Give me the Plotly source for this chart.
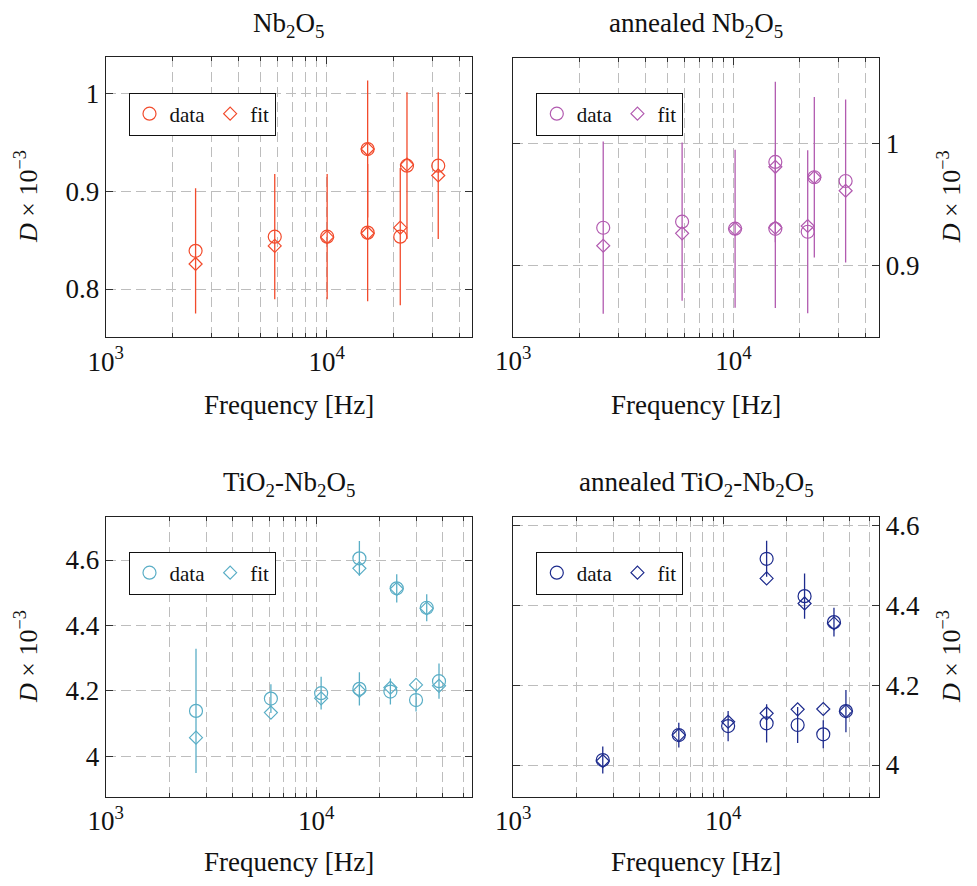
import plotly.graph_objects as go

# Page body has an 8px margin; the figure is sized to fit the window inside it.
OFF = 8
W, H = 977 - 2 * OFF, 886 - 2 * OFF
FONT = "Liberation Serif"

# ---------------- data ----------------
titles = ["Nb<sub>2</sub>O<sub>5</sub>", "annealed Nb<sub>2</sub>O<sub>5</sub>",
          "TiO<sub>2</sub>-Nb<sub>2</sub>O<sub>5</sub>", "annealed TiO<sub>2</sub>-Nb<sub>2</sub>O<sub>5</sub>"]
colors = ["#f24b2c", "#b25bb0", "#5aaec6", "#1d2b8d"]

f1 = [2550, 5820, 10050, 15330, 15330, 21540, 23100, 32000]
d1 = [0.839, 0.8535, 0.8535, 0.943, 0.8576, 0.8535, 0.926, 0.926]
e1 = [0.064, 0.064, 0.064, 0.070, 0.070, 0.070, 0.075, 0.075]
fit1 = [0.8256, 0.844, 0.853, 0.943, 0.857, 0.8627, 0.927, 0.916]

f2 = [2562, 5848, 10180, 15510, 15510, 21760, 23320, 32360]
d2 = [0.9309, 0.9359, 0.9301, 0.985, 0.930, 0.9276, 0.9724, 0.9693]
e2 = [0.0708, 0.065, 0.065, 0.066, 0.065, 0.067, 0.066, 0.067]
fit2 = [0.9161, 0.9263, 0.930, 0.981, 0.931, 0.9323, 0.9724, 0.9613]

f3 = [2686, 6095, 10560, 16050, 16050, 22530, 24150, 29830, 33530, 38350]
d3 = [4.1388, 4.1765, 4.193, 4.605, 4.2061, 4.198, 4.5135, 4.172, 4.4541, 4.2297]
e3 = [0.19, 0.044, 0.05, 0.053, 0.051, 0.04, 0.043, 0.035, 0.041, 0.054]
fit3 = [4.0569, 4.1336, 4.1773, 4.5745, 4.200, 4.210, 4.512, 4.2183, 4.452, 4.2153]

f4 = [2669, 6147, 10560, 16110, 16110, 22640, 24430, 29990, 33730, 38460]
d4 = [4.0125, 4.0752, 4.0977, 4.517, 4.1045, 4.1003, 4.4234, 4.077, 4.3582, 4.1353]
e4 = [0.034, 0.031, 0.038, 0.045, 0.048, 0.045, 0.057, 0.035, 0.036, 0.053]
fit4 = [4.01, 4.075, 4.1085, 4.4677, 4.1296, 4.1396, 4.405, 4.1404, 4.355, 4.135]

x_major = [1000, 10000]
x_major_text = ["10<sup>3</sup>", "10<sup>4</sup>"]
x_minor = [2000, 3000, 4000, 5000, 6000, 7000, 8000, 9000, 20000, 30000, 40000, 50000]
y_ticks = [[0.8, 0.9, 1.0], [0.9, 1.0], [4.0, 4.2, 4.4, 4.6], [4.0, 4.2, 4.4, 4.6]]
y_ticktext = [["0.8", "0.9", "1"], ["0.9", "1"], ["4", "4.2", "4.4", "4.6"], ["4", "4.2", "4.4", "4.6"]]

x_label = "Frequency [Hz]"
y_label = "<i>D</i> × 10<sup>−3</sup>"

# ---------------- layout geometry (screen pixels) ----------------
boxes = [(105.8, 472.0, 57.0, 337.0), (513.3, 879.3, 57.7, 336.7),
         (105.7, 472.3, 517.3, 796.7), (513.3, 879.3, 517.3, 796.7)]
xranges = [[3, 4.658], [3, 4.663], [3, 4.742], [3, 4.744]]
yranges = [[0.751, 1.037], [0.8413, 1.0707], [3.8765, 4.7306], [3.9206, 4.621]]
GRID = dict(gridcolor="#bdbdbd", griddash="10px,5px", gridwidth=1)


def px(X):
    return (X - OFF) / W


def py(Y):
    return 1 - (Y - OFF) / H


freqs = [f1, f2, f3, f4]
datas = [d1, d2, d3, d4]
errs = [e1, e2, e3, e4]
fits = [fit1, fit2, fit3, fit4]

fig = go.Figure()
layout = dict(width=W, height=H, margin=dict(l=0, r=0, t=0, b=0, autoexpand=False),
              paper_bgcolor="white", plot_bgcolor="white",
              font=dict(family=FONT, size=27, color="#111"))
annotations = []

for i in range(4):
    n = "" if i == 0 else str(i + 1)
    xa, ya = "x" + n, "y" + n
    leg = "legend" + n
    c = colors[i]
    fig.add_trace(go.Scatter(
        x=freqs[i], y=datas[i], mode="markers", name="data",
        xaxis=xa, yaxis=ya, legend=leg,
        marker=dict(symbol="circle-open", size=13, color=c, line=dict(width=1.2, color=c)),
        error_y=dict(type="data", array=errs[i], visible=True, color=c, thickness=1.3, width=0)))
    fig.add_trace(go.Scatter(
        x=freqs[i], y=fits[i], mode="markers", name="fit",
        xaxis=xa, yaxis=ya, legend=leg,
        marker=dict(symbol="diamond-open", size=10, color=c, line=dict(width=1.2, color=c))))

    x0, x1, y0, y1 = boxes[i]
    right = i in (1, 3)
    layout["xaxis" + n] = dict(
        type="log", domain=[px(x0), px(x1)], range=xranges[i], anchor=ya,
        automargin=False,
        tickmode="array", tickvals=x_major, ticktext=x_major_text,
        ticks="inside", ticklen=7, tickcolor="#333", tickwidth=1,
        showline=True, linecolor="#222", linewidth=1.2, mirror="ticks",
        showgrid=True, zeroline=False, **GRID,
        tickfont=dict(size=27, family=FONT, color="#111"),
        minor=dict(tickmode="array", tickvals=x_minor, ticks="inside", ticklen=4,
                   tickcolor="#333", showgrid=True, **GRID))
    layout["yaxis" + n] = dict(
        domain=[py(y1), py(y0)], range=yranges[i], anchor=xa,
        automargin=False,
        side="right" if right else "left",
        tickmode="array", tickvals=y_ticks[i], ticktext=y_ticktext[i],
        ticks="inside", ticklen=7, tickcolor="#333",
        showline=True, linecolor="#222", linewidth=1.2, mirror="ticks",
        showgrid=True, zeroline=False, **GRID,
        tickfont=dict(size=27, family=FONT, color="#111"))
    layout[leg] = dict(
        x=px(202.0 if not right else 609.3),
        y=py(114.0 if i < 2 else 573.0),
        xref="paper", yref="paper",
        xanchor="center", yanchor="middle", orientation="h",
        bordercolor="#111", borderwidth=1, bgcolor="white",
        font=dict(family=FONT, size=21, color="#111"),
        itemwidth=30, tracegroupgap=0)

    cx = (x0 + x1) / 2
    ty = 25 if i < 2 else 484
    annotations.append(dict(text=titles[i], x=px(cx), y=py(ty), xref="paper", yref="paper",
                            showarrow=False, xanchor="center", yanchor="middle",
                            font=dict(size=27, family=FONT, color="#111")))
    fy = 405 if i < 2 else 862
    annotations.append(dict(text=x_label, x=px(cx), y=py(fy), xref="paper", yref="paper",
                            showarrow=False, xanchor="center", yanchor="middle",
                            font=dict(size=27, family=FONT, color="#111")))
    lx = 949 if right else 26
    ly = (y0 + y1) / 2
    annotations.append(dict(text=y_label, x=px(lx), y=py(ly), xref="paper", yref="paper",
                            showarrow=False, xanchor="center", yanchor="middle", textangle=-90,
                            borderpad=0,
                            font=dict(size=26, family=FONT, color="#111")))

layout["annotations"] = annotations
fig.update_layout(**layout)
fig.write_html("out.html")
